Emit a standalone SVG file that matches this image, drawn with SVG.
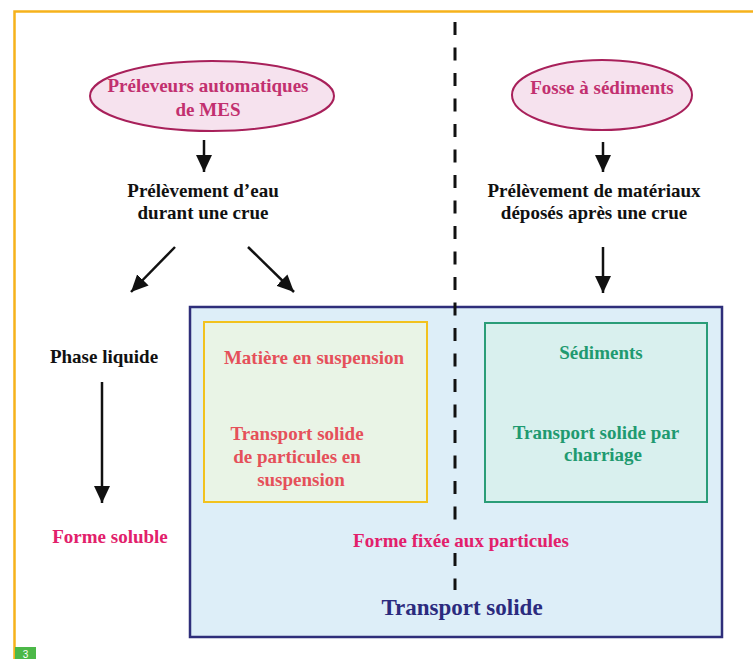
<svg xmlns="http://www.w3.org/2000/svg" width="753" height="659" viewBox="0 0 753 659">
<style>
  text { font-family: "Liberation Serif", "Times New Roman", serif; font-weight: bold; text-anchor: middle; }
  .blk { fill: #111; font-size: 19px; }
  .ell { fill: #C2306F; font-size: 19px; }
  .coral { fill: #E5505A; font-size: 19px; }
  .grn { fill: #1F9A70; font-size: 19px; }
  .pink { fill: #E2206B; font-size: 19px; }
  .navy { fill: #2B2B7E; font-size: 23px; }
  .conn line { stroke: #111; stroke-width: 2.5; marker-end: url(#ah); }
  .dash { stroke: #111; stroke-width: 3; stroke-dasharray: 13 12.5; }
</style>
<defs>
  <marker id="ah" markerWidth="18" markerHeight="17" refX="17" refY="8" orient="auto" markerUnits="userSpaceOnUse">
    <path d="M0,0 L17,8 L0,16 z" fill="#111"/>
  </marker>
</defs>
<rect width="753" height="659" fill="#ffffff"/>
<path d="M14.5,659 L14.5,11.5 L753,11.5" fill="none" stroke="#F6B21B" stroke-width="2.5"/>

<g id="transport-solide">
  <rect x="190" y="307" width="532" height="330" fill="#DDEEF8" stroke="#2E2E7A" stroke-width="2.5"/>
  <text class="navy" x="462" y="615">Transport solide</text>
</g>
<g id="matiere-suspension">
  <rect x="204" y="322" width="223" height="180" fill="#E9F4E6" stroke="#F2C21E" stroke-width="2"/>
  <text class="coral" x="314" y="364">Matière en suspension</text>
  <text class="coral" x="297" y="440">Transport solide</text>
  <text class="coral" x="297" y="463">de particules en</text>
  <text class="coral" x="301" y="486">suspension</text>
</g>
<g id="sediments">
  <rect x="485" y="323" width="222" height="179" fill="#D9F0EE" stroke="#2A9D78" stroke-width="2"/>
  <text class="grn" x="601" y="359">Sédiments</text>
  <text class="grn" x="596" y="439">Transport solide par</text>
  <text class="grn" x="603" y="461">charriage</text>
</g>

<g id="separator">
  <line class="dash" x1="455" y1="22" x2="455" y2="527"/>
  <line class="dash" x1="455" y1="553" x2="455" y2="590"/>
</g>

<g id="preleveurs">
  <ellipse cx="212" cy="96" rx="122" ry="35" fill="#F6E2EE" stroke="#A8205A" stroke-width="2"/>
  <text class="ell" x="208" y="92">Préleveurs automatiques</text>
  <text class="ell" x="208" y="116">de MES</text>
</g>
<g id="fosse">
  <ellipse cx="602" cy="95" rx="90" ry="35" fill="#F6E2EE" stroke="#A8205A" stroke-width="2"/>
  <text class="ell" x="602" y="94">Fosse à sédiments</text>
</g>
<g id="prelevement-eau">
  <text class="blk" x="203" y="197">Prélèvement d’eau</text>
  <text class="blk" x="203" y="219">durant une crue</text>
</g>
<g id="prelevement-materiaux">
  <text class="blk" x="594" y="197">Prélèvement de matériaux</text>
  <text class="blk" x="594" y="219">déposés après une crue</text>
</g>
<g id="phase-liquide">
  <text class="blk" x="104" y="363">Phase liquide</text>
</g>
<g id="forme-soluble">
  <text class="pink" x="110" y="543">Forme soluble</text>
</g>
<g id="forme-fixee">
  <text class="pink" x="461" y="547">Forme fixée aux particules</text>
</g>

<g class="conn" id="connectors">
  <line x1="204" y1="140" x2="204" y2="172"/>
  <line x1="175" y1="247" x2="131" y2="292"/>
  <line x1="248" y1="247" x2="294" y2="292"/>
  <line x1="603" y1="142" x2="603" y2="172"/>
  <line x1="603" y1="247" x2="603" y2="293"/>
  <line x1="102" y1="382" x2="102" y2="503"/>
</g>

<g id="badge">
  <rect x="15" y="647" width="21" height="12" fill="#4CB848"/>
  <text x="25.5" y="657.5" style="font-family: 'Liberation Sans', Arial, sans-serif; font-weight: normal; font-size: 10px; fill: #ffffff;">3</text>
</g>
</svg>
